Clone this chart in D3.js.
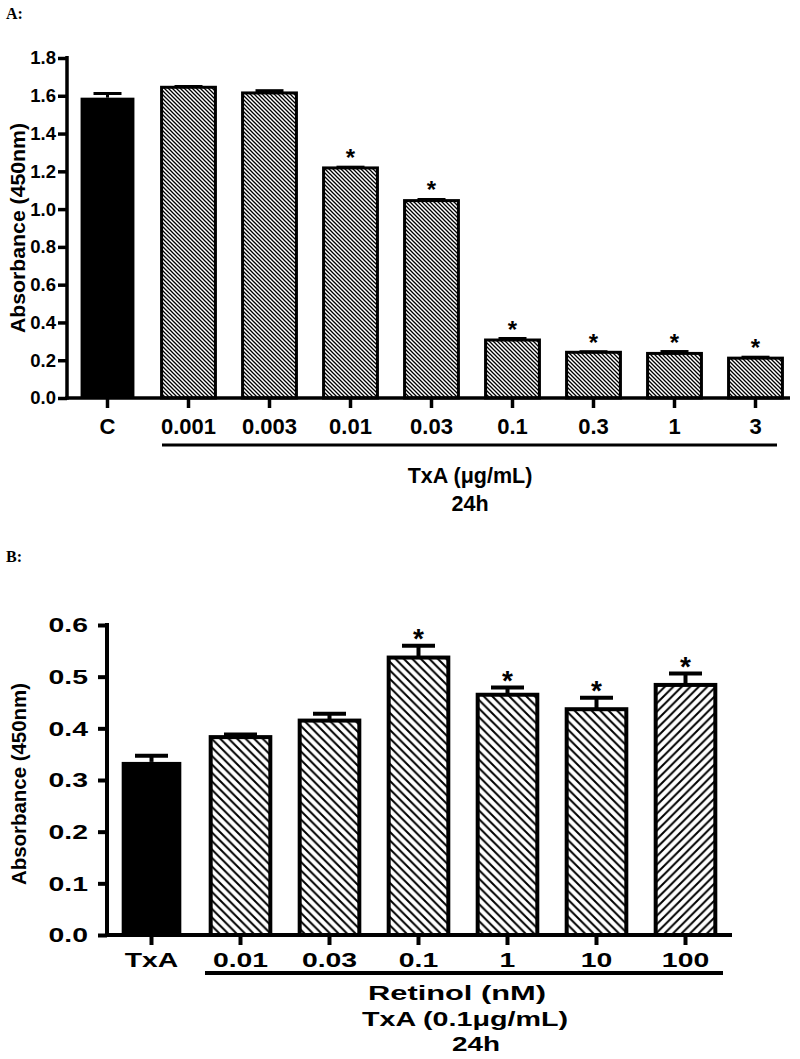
<!DOCTYPE html>
<html><head><meta charset="utf-8">
<script src="https://cdn.jsdelivr.net/npm/d3@7"></script>
<style>body{margin:0;background:#fff}svg{display:block}</style>
</head><body><svg id="c" width="800" height="1059"></svg>
<script>
// ---- Panel A data ----
const catsA = ["C","0.001","0.003","0.01","0.03","0.1","0.3","1","3"];
const valsA = [1.59,1.645,1.615,1.218,1.045,0.307,0.242,0.236,0.211];
const errsA = [0.022,0.004,0.012,0.004,0.006,0.008,0.003,0.010,0.005];
const sigA  = [false,false,false,true,true,true,true,true,true];
const fillA = ["solid","dA","dA","dA","dA","dA","dA","dA","dA"];
const ticksA = [0,0.2,0.4,0.6,0.8,1.0,1.2,1.4,1.6,1.8];
// ---- Panel B data ----
const catsB = ["TxA","0.01","0.03","0.1","1","10","100"];
const valsB = [0.335,0.383,0.415,0.537,0.465,0.437,0.484];
const errsB = [0.012,0.005,0.013,0.023,0.014,0.022,0.022];
const sigB  = [false,false,false,true,true,true,true];
const fillB = ["solid","bB","bB","bB","bB","bB","fB"];
const ticksB = [0,0.1,0.2,0.3,0.4,0.5,0.6];

const svg = d3.select("#c");
const defs = svg.append("defs");
function hatch(id, step, sw, dir){
  const p = defs.append("pattern").attr("id",id).attr("patternUnits","userSpaceOnUse")
    .attr("width",step).attr("height",step);
  p.append("rect").attr("width",step).attr("height",step).attr("fill","#fff");
  const s = step;
  const d = dir==="back"
    ? `M0,0 L${s},${s} M${-s/2},${s/2} L${s/2},${1.5*s} M${s/2},${-s/2} L${1.5*s},${s/2}`
    : `M0,${s} L${s},0 M${-s/2},${s/2} L${s/2},${-s/2} M${s/2},${1.5*s} L${1.5*s},${s/2}`;
  p.append("path").attr("d", d).attr("stroke","#000").attr("stroke-width",sw).attr("fill","none");
}
hatch("dA",4,1.3,"back");
hatch("bB",8.5,2,"back");
hatch("fB",8.5,2,"fwd");

svg.append("text").attr("x",6).attr("y",19).text("A:")
  .attr("font-family","Liberation Serif").attr("font-weight","bold").attr("font-size",16);
svg.append("text").attr("x",6).attr("y",562).text("B:")
  .attr("font-family","Liberation Serif").attr("font-weight","bold").attr("font-size",16);

// ================= Panel A =================
(function(){
  const x0=67, x1=796, y0=398, y1=58;
  const x = d3.scaleBand().domain(catsA).range([x0,x1]).paddingInner(0.335).paddingOuter(0.1675);
  const y = d3.scaleLinear().domain([0,1.8]).range([y0,y1]);
  const g = svg.append("g").attr("font-family","Liberation Sans").attr("font-weight","bold");
  const data = catsA.map((c,i)=>({c,v:valsA[i],e:errsA[i],s:sigA[i],f:fillA[i]}));
  g.selectAll("rect.bar").data(data).join("rect").attr("class","bar")
    .attr("x",d=>x(d.c)).attr("width",x.bandwidth())
    .attr("y",d=>y(d.v)).attr("height",d=>y(0)-y(d.v))
    .attr("fill",d=>d.f==="solid"?"#000":`url(#${d.f})`)
    .attr("stroke","#000").attr("stroke-width",d=>d.f==="solid"?0:3);
  const eb = g.selectAll("g.eb").data(data).join("g").attr("class","eb")
    .attr("transform",d=>`translate(${x(d.c)+x.bandwidth()/2},0)`);
  eb.append("line").attr("y1",d=>y(d.v)).attr("y2",d=>y(d.v+d.e)).attr("stroke","#000").attr("stroke-width",3);
  eb.append("line").attr("x1",-14).attr("x2",14).attr("y1",d=>y(d.v+d.e)).attr("y2",d=>y(d.v+d.e))
    .attr("stroke","#000").attr("stroke-width",3);
  eb.filter(d=>d.s).append("text").attr("text-anchor","middle")
    .attr("y",d=>y(d.v+d.e)-1).attr("font-size",24).text("*");
  const ya = g.append("g").attr("transform",`translate(${x0},0)`)
    .call(d3.axisLeft(y).tickValues(ticksA).tickFormat(d3.format(".1f")).tickSize(9).tickPadding(2));
  const xa = g.append("g").attr("transform",`translate(0,${y0})`)
    .call(d3.axisBottom(x).tickSize(10).tickPadding(0));
  [ya,xa].forEach(a=>{
    a.selectAll("line").attr("stroke-width",3.5);
    a.attr("font-family",null).attr("font-size",null);
    a.select("path").remove();
  });
  g.append("line").attr("x1",x0).attr("x2",x0).attr("y1",y1-2).attr("y2",y0+1.75).attr("stroke","#000").attr("stroke-width",3.5);
  g.append("line").attr("x1",x0-1.75).attr("x2",790).attr("y1",y0).attr("y2",y0).attr("stroke","#000").attr("stroke-width",3.5);
  ya.selectAll("text").attr("font-size",18.5);
  xa.selectAll("text").attr("font-size",22).attr("y",36).attr("dy",0);
  g.append("line").attr("x1",162).attr("x2",777).attr("y1",445).attr("y2",445).attr("stroke","#000").attr("stroke-width",3);
  g.append("text").attr("x",470).attr("y",483).attr("text-anchor","middle").attr("font-size",21.5).text("TxA (\u03bcg/mL)");
  g.append("text").attr("x",470).attr("y",511).attr("text-anchor","middle").attr("font-size",21.5).text("24h");
  g.append("text").attr("transform","translate(25,228) rotate(-90)").attr("text-anchor","middle")
    .attr("font-size",20).attr("textLength",210).attr("lengthAdjust","spacingAndGlyphs").text("Absorbance (450nm)");
})();

// ================= Panel B =================
(function(){
  const x0=107, x1=730, y0=935, y1=625;
  const SX = 1.35;
  const x = d3.scaleBand().domain(catsB).range([x0,x1]).paddingInner(0.33).paddingOuter(0.165);
  const y = d3.scaleLinear().domain([0,0.6]).range([y0,y1]);
  const g = svg.append("g").attr("font-family","Liberation Sans").attr("font-weight","bold");
  const data = catsB.map((c,i)=>({c,v:valsB[i],e:errsB[i],s:sigB[i],f:fillB[i]}));
  g.selectAll("rect.bar").data(data).join("rect").attr("class","bar")
    .attr("x",d=>x(d.c)).attr("width",x.bandwidth())
    .attr("y",d=>y(d.v)).attr("height",d=>y(0)-y(d.v))
    .attr("fill",d=>d.f==="solid"?"#000":`url(#${d.f})`)
    .attr("stroke","#000").attr("stroke-width",d=>d.f==="solid"?0:4);
  const eb = g.selectAll("g.eb").data(data).join("g").attr("class","eb")
    .attr("transform",d=>`translate(${x(d.c)+x.bandwidth()/2},0)`);
  eb.append("line").attr("y1",d=>y(d.v)).attr("y2",d=>y(d.v+d.e)).attr("stroke","#000").attr("stroke-width",4);
  eb.append("line").attr("x1",-16.5).attr("x2",16.5).attr("y1",d=>y(d.v+d.e)).attr("y2",d=>y(d.v+d.e))
    .attr("stroke","#000").attr("stroke-width",4);
  eb.filter(d=>d.s).append("text").attr("text-anchor","middle")
    .attr("y",d=>y(d.v+d.e)+2).attr("font-size",28).text("*");
  const ya = g.append("g").attr("transform",`translate(${x0},0)`)
    .call(d3.axisLeft(y).tickValues(ticksB).tickFormat(d3.format(".1f")).tickSize(9).tickPadding(2));
  const xa = g.append("g").attr("transform",`translate(0,${y0})`)
    .call(d3.axisBottom(x).tickSize(10).tickPadding(0));
  [ya,xa].forEach(a=>{
    a.selectAll("line").attr("stroke-width",4);
    a.attr("font-family",null).attr("font-size",null);
    a.select("path").remove();
  });
  g.append("line").attr("x1",x0).attr("x2",x0).attr("y1",y1-2).attr("y2",y0+2).attr("stroke","#000").attr("stroke-width",4);
  g.append("line").attr("x1",x0-2).attr("x2",732).attr("y1",y0).attr("y2",y0).attr("stroke","#000").attr("stroke-width",4);
  ya.selectAll("text").attr("font-size",21).attr("x",-19/SX).attr("transform",`scale(${SX},1)`);
  xa.selectAll("text").attr("font-size",21).attr("y",32).attr("dy",0).attr("transform",`scale(${SX},1)`);
  g.append("line").attr("x1",205).attr("x2",723).attr("y1",973).attr("y2",973).attr("stroke","#000").attr("stroke-width",4);
  const t = (s,cx,by,len)=>g.append("text").attr("x",cx).attr("y",by).attr("text-anchor","middle")
    .attr("font-size",20).attr("textLength",len).attr("lengthAdjust","spacingAndGlyphs").text(s);
  t("Retinol (nM)",457,1000,178);
  t("TxA (0.1\u03bcg/mL)",465,1026,206);
  t("24h",476,1051,48);
  g.append("text").attr("transform","translate(26,784) rotate(-90)").attr("text-anchor","middle")
    .attr("font-size",20).attr("textLength",202).attr("lengthAdjust","spacingAndGlyphs").text("Absorbance (450nm)");
})();
</script></body></html>
